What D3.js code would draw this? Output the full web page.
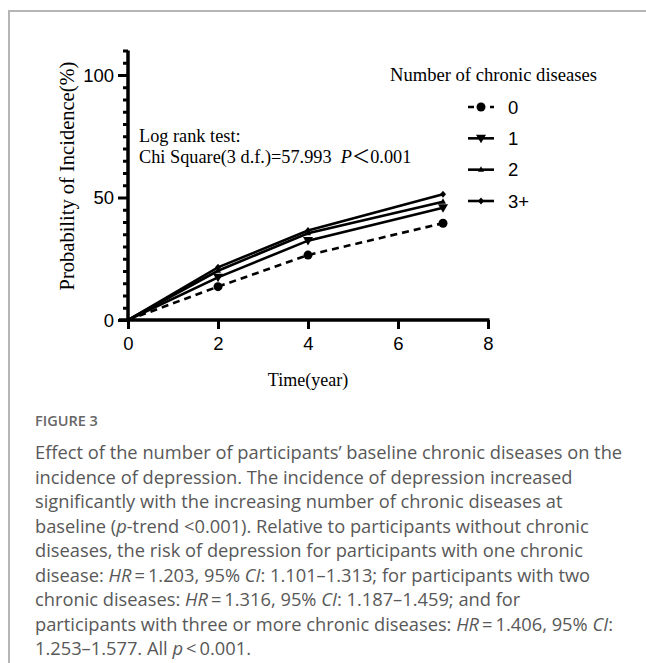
<!DOCTYPE html>
<html>
<head>
<meta charset="utf-8">
<script src="https://cdn.jsdelivr.net/npm/d3@7"></script>
<style>
  body { margin: 0; background: #fff; }
  svg text { fill: #000; }
  .caption text { fill: #585858; }
</style>
</head>
<body>
<div id="chart"></div>
<script>
// data
const years = [0, 2, 4, 7];
const groups = ['0', '1', '2', '3+'];
const incidence0 = [0, 13.6, 26.5, 39.5];
const incidence1 = [0, 17.4, 32.4, 45.8];
const incidence2 = [0, 20.1, 35.4, 48.3];
const incidence3 = [0, 21.5, 36.5, 51.3];
const xTicks = [0, 2, 4, 6, 8];
const yTicks = [0, 50, 100];

const captionLines = [
  [['Effect of the number of participants\u2019 baseline chronic diseases on the', 0]],
  [['incidence of depression. The incidence of depression increased', 0]],
  [['significantly with the increasing number of chronic diseases at', 0]],
  [['baseline (', 0], ['p', 1], ['-trend <0.001). Relative to participants without chronic', 0]],
  [['diseases, the risk of depression for participants with one chronic', 0]],
  [['disease: ', 0], ['HR', 1], ['\u2009=\u20091.203, 95% ', 0], ['CI', 1], [': 1.101\u20131.313; for participants with two', 0]],
  [['chronic diseases: ', 0], ['HR', 1], ['\u2009=\u20091.316, 95% ', 0], ['CI', 1], [': 1.187\u20131.459; and for', 0]],
  [['participants with three or more chronic diseases: ', 0], ['HR', 1], ['\u2009=\u20091.406, 95% ', 0], ['CI', 1], [':', 0]],
  [['1.253\u20131.577. All ', 0], ['p', 1], ['\u2009<\u20090.001.', 0]]
];

const series = [incidence0, incidence1, incidence2, incidence3].map((vals, i) => ({
  key: groups[i],
  values: vals.map((v, j) => ({ t: years[j], v: v }))
}));

const W = 646, H = 663;
const svg = d3.select('#chart').append('svg')
  .attr('width', W)
  .attr('height', H);

// panel frame (top + left rule)
svg.append('path')
  .attr('d', `M9,${H} V11 H${W}`)
  .attr('fill', 'none')
  .attr('stroke', '#b5b5b5')
  .attr('stroke-width', 2);

const x = d3.scaleLinear().domain([0, 8]).range([128, 488]);
const y = d3.scaleLinear().domain([0, 110]).range([320, 50.5]);

const serif = '"Liberation Serif", "Times New Roman", serif';
const sans = '"Liberation Sans", Arial, sans-serif';

// y axis
const yAxis = svg.append('g').attr('transform', `translate(${x(0)},0)`);
yAxis.call(d3.axisLeft(y).tickValues(d3.range(0, 111, 5)).tickSize(5).tickFormat(''));
yAxis.attr('font-size', null).attr('font-family', null);
yAxis.selectAll('.tick')
  .filter(d => yTicks.includes(d))
  .select('line').attr('x2', -10);
yAxis.selectAll('.tick')
  .filter(d => yTicks.includes(d))
  .append('text')
    .attr('x', -14)
    .attr('dy', '0.35em')
    .attr('text-anchor', 'end')
    .attr('font-family', sans)
    .attr('font-size', 18.5)
    .attr('fill', '#000')
    .text(d => d);

// x axis
const xAxis = svg.append('g').attr('transform', `translate(0,${y(0)})`);
xAxis.call(d3.axisBottom(x).tickValues(xTicks).tickSize(9).tickPadding(8));
xAxis.attr('font-size', null).attr('font-family', null);
xAxis.selectAll('text')
  .attr('font-family', sans)
  .attr('font-size', 18.5)
  .attr('fill', '#000');

[yAxis, xAxis].forEach(g => {
  g.select('.domain').attr('stroke-width', 3.5).attr('stroke', '#000');
  g.selectAll('.tick line').attr('stroke-width', 3).attr('stroke', '#000');
});
yAxis.select('.domain').attr('d', `M0,${y(110)}V${y(0) + 1.5}`);
xAxis.select('.domain').attr('d', `M${x(0) - 9},0H${x(8) + 1.5}`);

// axis titles
svg.append('text')
  .attr('transform', 'translate(74,176) rotate(-90)')
  .attr('text-anchor', 'middle')
  .style('font-family', serif)
  .style('font-size', '20.5px')
  .text('Probability of Incidence(%)');

svg.append('text')
  .attr('x', x(4))
  .attr('y', 386)
  .attr('text-anchor', 'middle')
  .style('font-family', serif)
  .style('font-size', '18px')
  .text('Time(year)');

// log rank annotation
svg.append('text')
  .attr('x', 139).attr('y', 142)
  .style('font-family', serif)
  .style('font-size', '18.3px')
  .text('Log rank test:');
const chi = svg.append('text')
  .attr('x', 139).attr('y', 163)
  .style('font-family', serif)
  .style('font-size', '18.3px');
chi.append('tspan').text('Chi Square(3 d.f.)=57.993\u00a0\u00a0');
chi.append('tspan').style('font-style', 'italic').text('P');
chi.append('tspan').style('font-family', '"Noto Sans CJK SC", sans-serif').text('\uff1c');
chi.append('tspan').text('0.001');

// lines
const line = d3.line().x(d => x(d.t)).y(d => y(d.v));
const dashes = ['7,5', null, null, null];

svg.append('g').selectAll('path')
  .data(series)
  .join('path')
    .attr('d', d => line(d.values))
    .attr('fill', 'none')
    .attr('stroke', '#000')
    .attr('stroke-width', 2.6)
    .attr('stroke-dasharray', (d, i) => dashes[i]);

// markers
function marker(sel, i) {
  if (i === 0) {
    sel.append('circle').attr('r', 4.5).attr('fill', '#000');
  } else if (i === 1) {
    sel.append('path').attr('d', 'M-5,-3.5 L5,-3.5 L0,5 Z').attr('fill', '#000');
  } else if (i === 2) {
    sel.append('path').attr('d', 'M-3,2 L3,2 L0,-3.5 Z').attr('fill', '#000');
  } else {
    sel.append('path').attr('d', 'M0,-3.5 L3,0 L0,3.5 L-3,0 Z').attr('fill', '#000');
  }
}

series.forEach((s, i) => {
  svg.append('g').selectAll('g')
    .data(s.values.filter(d => d.t > 0))
    .join('g')
      .attr('transform', d => `translate(${x(d.t)},${y(d.v)})`)
      .each(function() { marker(d3.select(this), i); });
});

// legend
svg.append('text')
  .attr('x', 390).attr('y', 81)
  .style('font-family', serif)
  .style('font-size', '18.6px')
  .text('Number of chronic diseases');

const legendY = d3.scalePoint().domain(groups).range([107, 201]);
const legend = svg.append('g').selectAll('g')
  .data(groups)
  .join('g')
    .attr('transform', d => `translate(0,${legendY(d)})`);

legend.append('line')
  .attr('x1', 468).attr('x2', 494)
  .attr('stroke', '#000')
  .attr('stroke-width', 2.6)
  .attr('stroke-dasharray', (d, i) => i === 0 ? '6,5' : null);
legend.append('g')
  .attr('transform', 'translate(481,0)')
  .each(function(d, i) { marker(d3.select(this), i); });
legend.append('text')
  .attr('x', 508)
  .attr('dy', '0.36em')
  .style('font-family', sans)
  .style('font-size', '18.5px')
  .text(d => d);

// caption
const cap = svg.append('g').attr('class', 'caption')
  .style('font-family', '"Open Sans", "Noto Sans", sans-serif');
cap.append('text')
  .attr('x', 35).attr('y', 426)
  .style('font-size', '14.5px')
  .style('font-weight', 600)
  .style('fill', '#666')
  .text('FIGURE 3');

captionLines.forEach((parts, i) => {
  const t = cap.append('text')
    .attr('x', 35)
    .attr('y', 459 + i * 24.5)
    .style('font-size', '18.3px');
  parts.forEach(p => {
    t.append('tspan')
      .style('font-style', p[1] ? 'italic' : 'normal')
      .text(p[0]);
  });
});
</script>
</body>
</html>
